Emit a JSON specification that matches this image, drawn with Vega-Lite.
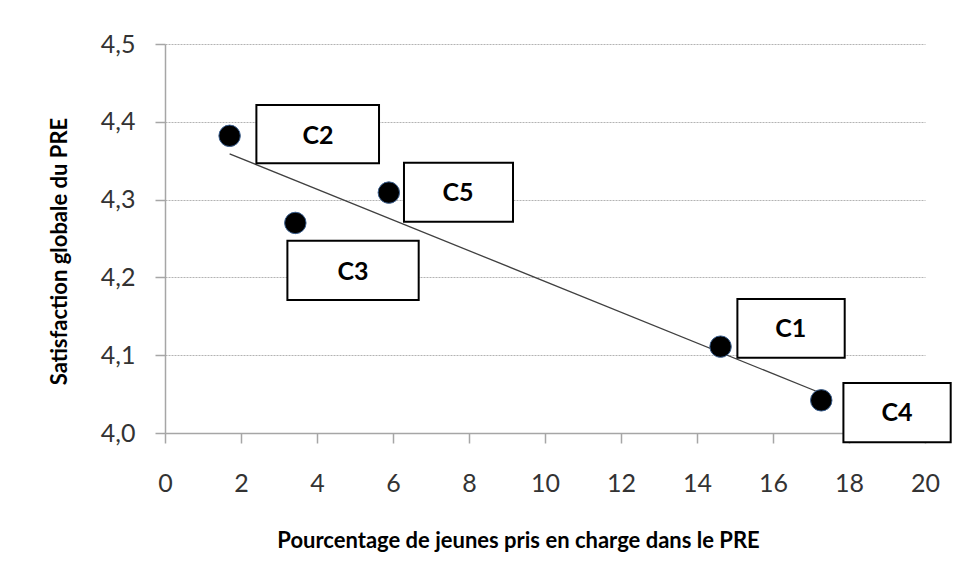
{
  "$schema": "https://vega.github.io/schema/vega-lite/v6.json",
  "width": 760,
  "height": 389,
  "autosize": "none",
  "padding": {"left": 165, "top": 44, "right": 32, "bottom": 148},
  "background": "white",
  "config": {"view": {"stroke": null}, "font": "Lato"},
  "datasets": {
    "points": [
      {"groupe": "C2", "x": 1.70, "y": 4.382},
      {"groupe": "C3", "x": 3.43, "y": 4.270},
      {"groupe": "C5", "x": 5.89, "y": 4.309},
      {"groupe": "C1", "x": 14.62, "y": 4.111},
      {"groupe": "C4", "x": 17.27, "y": 4.042}
    ],
    "labels": [
      {"label": "C2", "x1": 2.405, "x2": 5.632, "y1": 4.4216, "y2": 4.3467, "lx": 4.026, "ly": 4.382},
      {"label": "C5", "x1": 6.289, "x2": 9.158, "y1": 4.3474, "y2": 4.2716, "lx": 7.711, "ly": 4.308},
      {"label": "C3", "x1": 3.221, "x2": 6.676, "y1": 4.2472, "y2": 4.1710, "lx": 4.947, "ly": 4.2073},
      {"label": "C1", "x1": 15.063, "x2": 17.887, "y1": 4.1722, "y2": 4.0968, "lx": 16.466, "ly": 4.1333},
      {"label": "C4", "x1": 17.853, "x2": 20.676, "y1": 4.0643, "y2": 3.988, "lx": 19.263, "ly": 4.0253}
    ]
  },
  "layer": [
    {
      "data": {"name": "points"},
      "transform": [{"regression": "y", "on": "x"}],
      "mark": {"type": "line", "color": "#404040", "strokeWidth": 1.3},
      "encoding": {
        "x": {
          "field": "x", "type": "quantitative",
          "scale": {"domain": [0, 20], "nice": false, "zero": false},
          "axis": {
            "title": "Pourcentage de jeunes pris en charge dans le PRE",
            "values": [0, 2, 4, 6, 8, 10, 12, 14, 16, 18, 20],
            "grid": false,
            "domainColor": "#a6a6a6", "domainWidth": 1.5,
            "tickColor": "#a6a6a6", "tickWidth": 1.5, "tickSize": 10,
            "labelFont": "Lato", "labelFontSize": 25, "labelColor": "#333333",
            "labelPadding": 28, "labelFlush": false, "labelOverlap": false,
            "titleFont": "Lato", "titleFontSize": 22, "titleFontWeight": "bold", "titleColor": "black",
            "titleX": 353, "titleY": 114, "titleBaseline": "alphabetic", "titleAlign": "center"
          }
        },
        "y": {
          "field": "y", "type": "quantitative",
          "scale": {"domain": [4.0, 4.5], "nice": false, "zero": false},
          "axis": {
            "title": "Satisfaction globale du PRE",
            "values": [4.0, 4.1, 4.2, 4.3, 4.4, 4.5],
            "labelExpr": "replace(format(datum.value, '.1f'), '.', ',')",
            "grid": true, "gridColor": "#b3b3b3", "gridDash": [2, 1], "gridWidth": 1,
            "domainColor": "#a6a6a6", "domainWidth": 1.5,
            "tickColor": "#a6a6a6", "tickWidth": 1.5, "tickSize": 10,
            "labelFont": "Lato", "labelFontSize": 25, "labelColor": "#333333",
            "labelPadding": 20, "labelOverlap": false, "labelFlush": false,
            "titleFont": "Lato", "titleFontSize": 22, "titleFontWeight": "bold", "titleColor": "black",
            "titleX": -99, "titleY": 207, "titleBaseline": "alphabetic", "titleAlign": "center", "titleAngle": 270
          }
        }
      }
    },
    {
      "data": {"name": "points"},
      "mark": {"type": "circle", "size": 460, "color": "black", "opacity": 1, "stroke": "#3a5f8f", "strokeWidth": 1},
      "encoding": {
        "x": {"field": "x", "type": "quantitative", "title": "Pourcentage de jeunes pris en charge dans le PRE"},
        "y": {"field": "y", "type": "quantitative", "title": "Satisfaction globale du PRE"}
      }
    },
    {
      "data": {"name": "labels"},
      "mark": {"type": "rect", "fill": "white", "stroke": "black", "strokeWidth": 2, "clip": false},
      "encoding": {
        "x": {"field": "x1", "type": "quantitative", "title": "Pourcentage de jeunes pris en charge dans le PRE"},
        "x2": {"field": "x2"},
        "y": {"field": "y1", "type": "quantitative", "title": "Satisfaction globale du PRE"},
        "y2": {"field": "y2"}
      }
    },
    {
      "data": {"name": "labels"},
      "mark": {"type": "text", "font": "Lato", "fontWeight": "bold", "fontSize": 25, "color": "black", "baseline": "middle", "align": "center", "clip": false},
      "encoding": {
        "x": {"field": "lx", "type": "quantitative", "title": "Pourcentage de jeunes pris en charge dans le PRE"},
        "y": {"field": "ly", "type": "quantitative", "title": "Satisfaction globale du PRE"},
        "text": {"field": "label"}
      }
    }
  ]
}
